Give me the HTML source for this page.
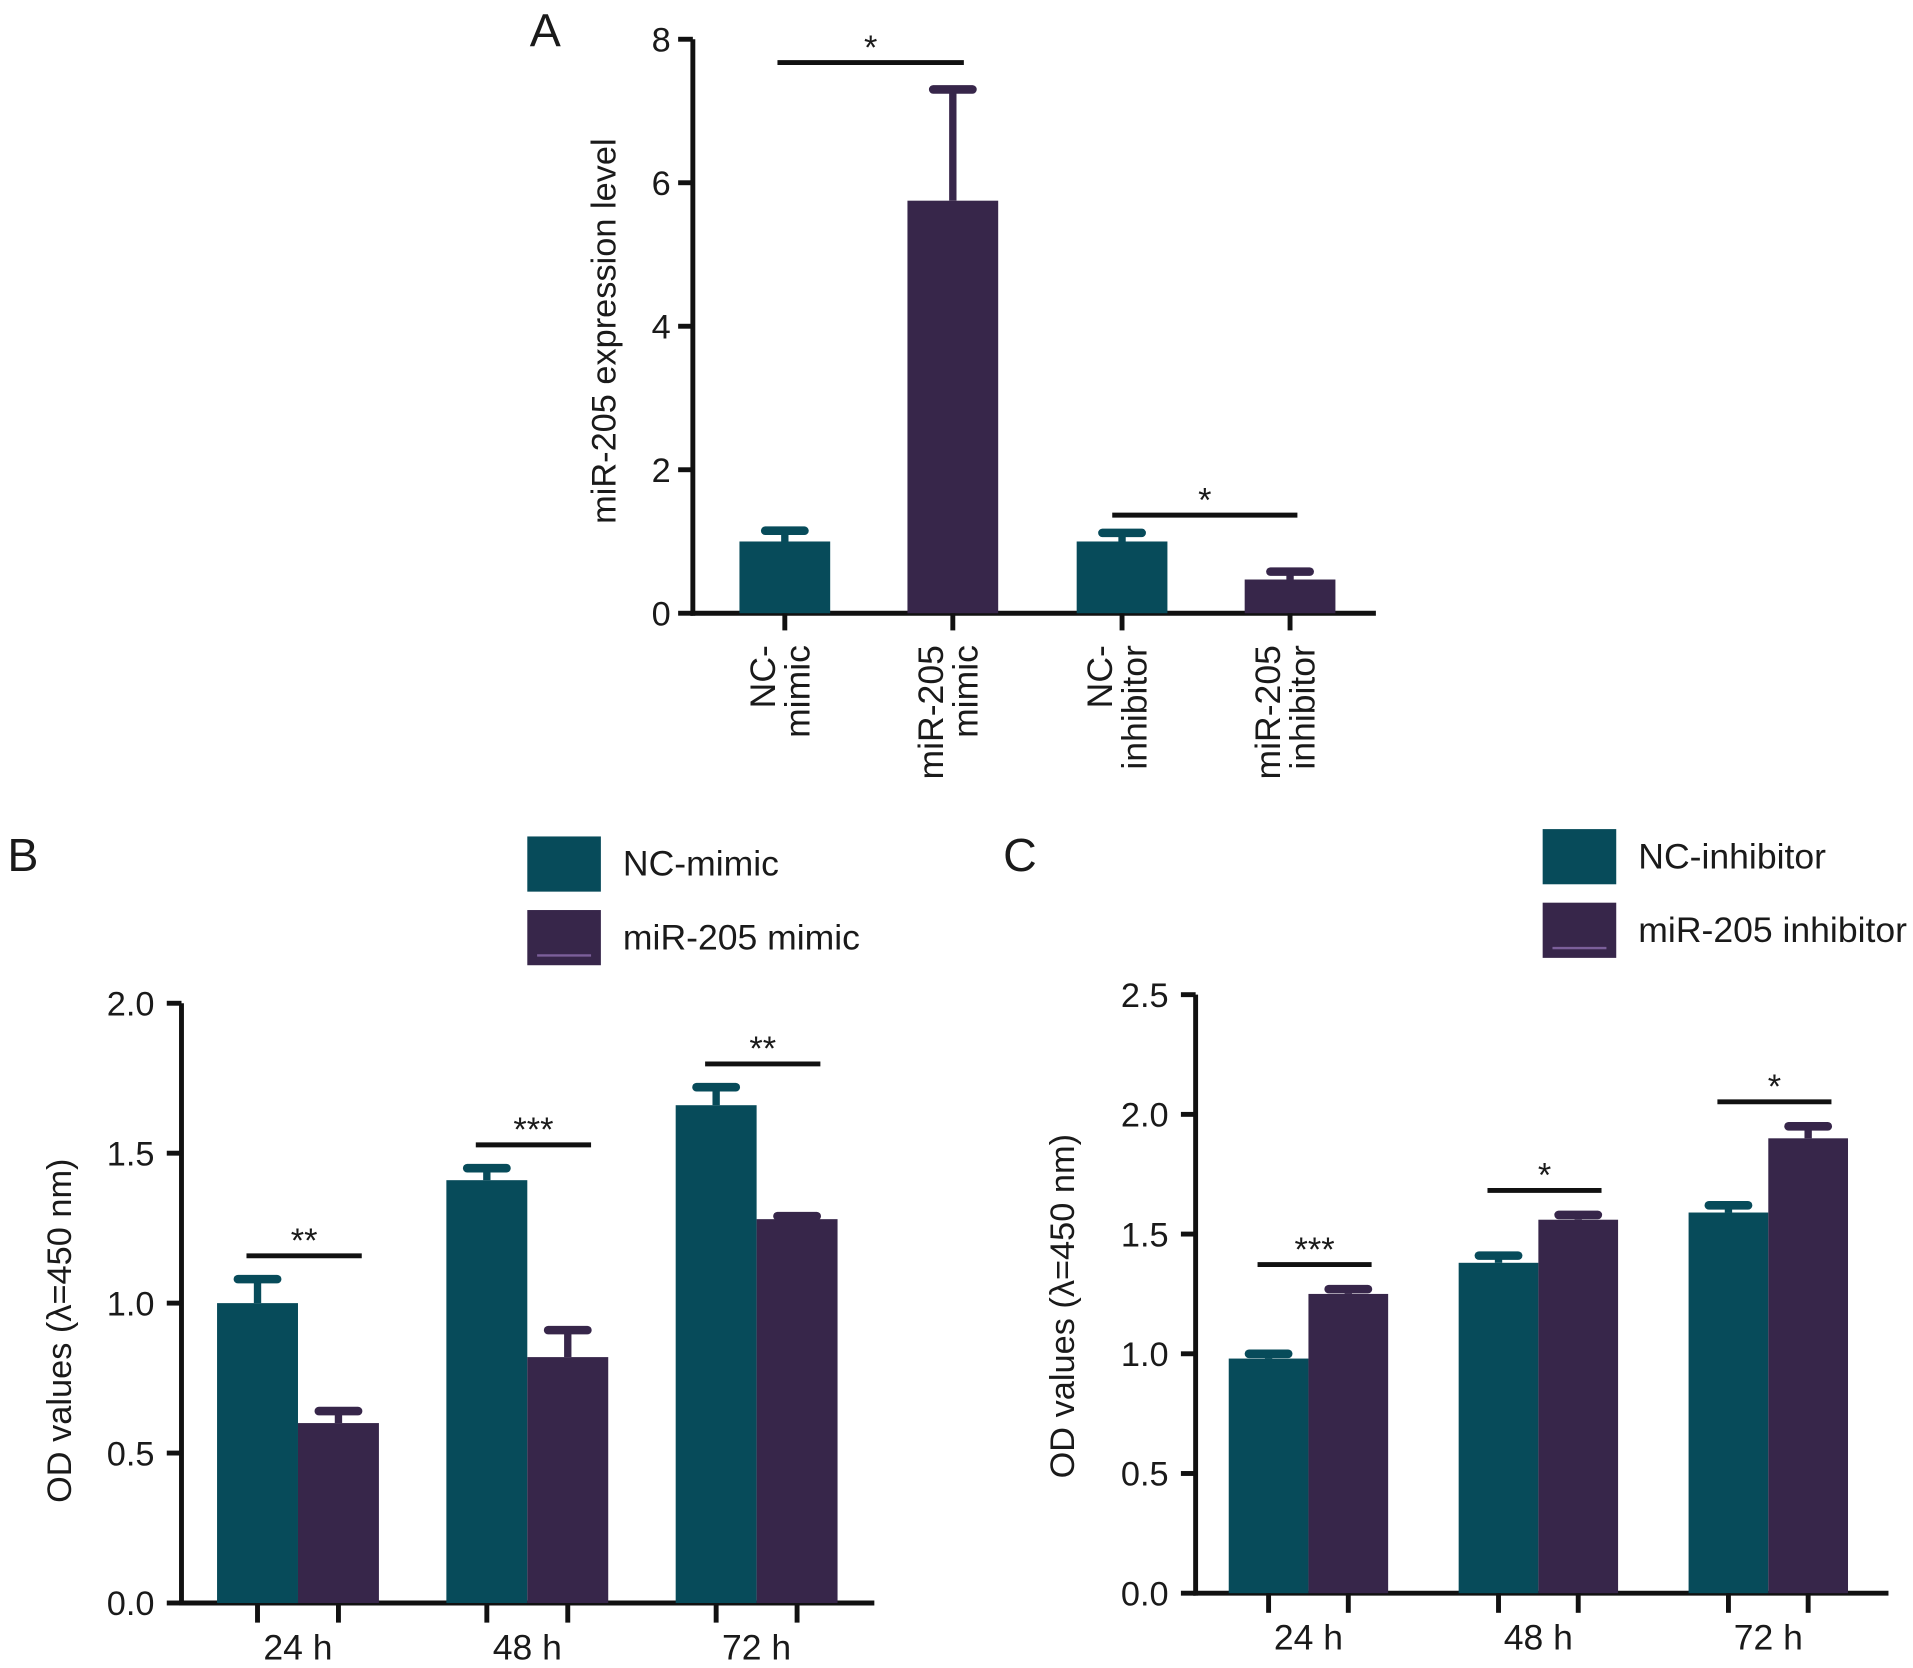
<!DOCTYPE html>
<html><head><meta charset="utf-8"><style>
html,body{margin:0;padding:0;background:#fff}
svg{display:block}
text{font-family:"Liberation Sans",Arial,sans-serif;fill:#1a1a1a}
</style></head><body>
<svg id="fig" width="1913" height="1668" viewBox="0 0 1560 1360" preserveAspectRatio="none">
<text x="432" y="38" font-size="38">A</text>
<text x="6" y="710" font-size="38">B</text>
<text x="818" y="710" font-size="38">C</text>
</svg>
<script>
// Panel A data
const aCategories = [["NC-","mimic"],["miR-205","mimic"],["NC-","inhibitor"],["miR-205","inhibitor"]];
const aValues = [1.0, 5.75, 1.0, 0.47];
const aErrors = [1.15, 7.3, 1.12, 0.58];
const aTicks = [0,2,4,6,8];
// Panel B data
const bGroups = ["24 h","48 h","72 h"];
const bNC = [1.0, 1.41, 1.66];
const bNCErr = [1.08, 1.45, 1.72];
const bMiR = [0.6, 0.82, 1.28];
const bMiRErr = [0.64, 0.91, 1.29];
const bSig = ["**","***","**"];
const bTicks = ["0.0","0.5","1.0","1.5","2.0"];
// Panel C data
const cGroups = ["24 h","48 h","72 h"];
const cNC = [0.98, 1.38, 1.59];
const cNCErr = [1.0, 1.41, 1.62];
const cInh = [1.25, 1.56, 1.9];
const cInhErr = [1.27, 1.58, 1.95];
const cSig = ["***","*","*"];
const cTicks = ["0.0","0.5","1.0","1.5","2.0","2.5"];

const TEAL="#074b5a", PURP="#37264a";
const svg=document.getElementById('fig');
const NS="http://www.w3.org/2000/svg";
function el(tag,attrs,parent){const e=document.createElementNS(NS,tag);for(const k in attrs)e.setAttribute(k,attrs[k]);(parent||svg).appendChild(e);return e;}
function txt(s,attrs){const t=el('text',attrs);t.textContent=s;return t;}

function bar(x,w,y0,y1,color,ey,name){
  const r=el('rect',{x:x,y:y1,width:w,height:y0-y1,fill:color});
  
  
  const cx=x+w/2;
  const l=el('line',{x1:cx,x2:cx,y1:y1,y2:ey,stroke:color,'stroke-width':6});
  
  
  const c=el('line',{x1:cx-16,x2:cx+16,y1:ey,y2:ey,stroke:color,'stroke-width':7,'stroke-linecap':'round'});
  
  
}
function sig(x1,x2,y,s,name){
  const l=el('line',{x1:x1,x2:x2,y1:y,y2:y,stroke:'#111','stroke-width':4});
  
  
  const t=txt(s,{x:(x1+x2)/2,y:y-3,'font-size':28,'text-anchor':'middle'});
  
  
}

// ---- Panel A ----
(function(){
  const ax=565, y0=500, yTop=32, xEnd=1122, max=8;
  const ys=v=>y0-(v/max)*(y0-yTop);
  const centers=[640,777,915,1052], bw=74;
  let a=el('line',{x1:ax,x2:ax,y1:yTop,y2:y0+2,stroke:'#111','stroke-width':4});
  
  a=el('line',{x1:ax-2,x2:xEnd,y1:y0,y2:y0,stroke:'#111','stroke-width':4});
  
  aTicks.forEach(v=>{
    const tk=el('line',{x1:ax-12,x2:ax,y1:ys(v),y2:ys(v),stroke:'#111','stroke-width':4});
    
    const t=txt(String(v),{x:ax-18,y:ys(v)+10,'font-size':28,'text-anchor':'end'});
    
  });
  aValues.forEach((v,i)=>{
    bar(centers[i]-bw/2,bw,y0,ys(v),i%2?PURP:TEAL,ys(aErrors[i]),'a-bar-'+i);
    const tk=el('line',{x1:centers[i],x2:centers[i],y1:y0,y2:y0+14,stroke:'#111','stroke-width':4});
    
    const lines=aCategories[i];
    lines.forEach((s,j)=>{
      const x=centers[i]-4+(j-(lines.length-1)/2)*28+10;
      const t=txt(s,{x:x,y:526,'font-size':29,'text-anchor':'end',transform:`rotate(-90 ${x} 526)`});
      
    });
  });
  sig(634,786,51,'*','a-sig-mimic');
  sig(907,1058,420,'*','a-sig-inhibitor');
  const yl=txt('miR-205 expression level',{x:502,y:270,'font-size':28,'text-anchor':'middle',transform:'rotate(-90 502 270)'});
  
})();

// ---- grouped panels ----
function grouped(p){
  const ys=v=>p.y0-(v/p.max)*(p.y0-p.yTop);
  let a=el('line',{x1:p.ax,x2:p.ax,y1:p.yTop,y2:p.y0+2,stroke:'#111','stroke-width':4});
  
  a=el('line',{x1:p.ax-2,x2:p.xEnd,y1:p.y0,y2:p.y0,stroke:'#111','stroke-width':4});
  
  p.ticks.forEach(s=>{
    const v=parseFloat(s);
    const tk=el('line',{x1:p.ax-12,x2:p.ax,y1:ys(v),y2:ys(v),stroke:'#111','stroke-width':4});
    
    const t=txt(s,{x:p.ax-22,y:ys(v)+10,'font-size':28,'text-anchor':'end'});
    
  });
  p.groups.forEach((g,i)=>{
    const gx=p.g0+i*p.gstep;
    bar(gx,p.bw,p.y0,ys(p.s1[i]),TEAL,ys(p.e1[i]),p.id+'-bar-nc-'+i);
    bar(gx+p.bw,p.bw,p.y0,ys(p.s2[i]),PURP,ys(p.e2[i]),p.id+'-bar-mir-'+i);
    [gx+p.bw/2,gx+p.bw*1.5].forEach(x=>{
      const tk=el('line',{x1:x,x2:x,y1:p.y0,y2:p.y0+16,stroke:'#111','stroke-width':4});
      
    });
    const t=txt(g,{x:gx+p.bw,y:p.y0+46,'font-size':29,'text-anchor':'middle'});
    
    const top=Math.max(p.e1[i],p.e2[i]);
    sig(gx+p.bw/2-9,gx+p.bw*1.5+19,ys(top)-p.sigGap,p.sig[i],p.id+'-sig-'+i);
  });
  const yl=txt('OD values (λ=450 nm)',{x:p.ylx,y:p.yly,'font-size':28,'text-anchor':'middle',transform:`rotate(-90 ${p.ylx} ${p.yly})`});
  
  p.legend.forEach((s,j)=>{
    const y=p.legY+j*60;
    const r=el('rect',{x:p.legX,y:y,width:60,height:45,fill:j?PURP:TEAL});
    
    if(j){const ln=el('line',{x1:p.legX+8,x2:p.legX+52,y1:y+37,y2:y+37,stroke:'#7b5f9a','stroke-width':2});
      }
    const t=txt(s,{x:p.legX+78,y:y+32,'font-size':29});
    
  });
}
grouped({id:'b',ax:148,y0:1307,yTop:818,xEnd:713,max:2.0,ticks:bTicks,groups:bGroups,
  s1:bNC,e1:bNCErr,s2:bMiR,e2:bMiRErr,sig:bSig,g0:177,gstep:187,bw:66,sigGap:19,
  ylx:58,yly:1085,legend:["NC-mimic","miR-205 mimic"],legX:430,legY:682});
grouped({id:'c',ax:975,y0:1299,yTop:811,xEnd:1540,max:2.5,ticks:cTicks,groups:cGroups,
  s1:cNC,e1:cNCErr,s2:cInh,e2:cInhErr,sig:cSig,g0:1002,gstep:187.5,bw:65,sigGap:20,
  ylx:876,yly:1065,legend:["NC-inhibitor","miR-205 inhibitor"],legX:1258,legY:676});
</script>
</body></html>
